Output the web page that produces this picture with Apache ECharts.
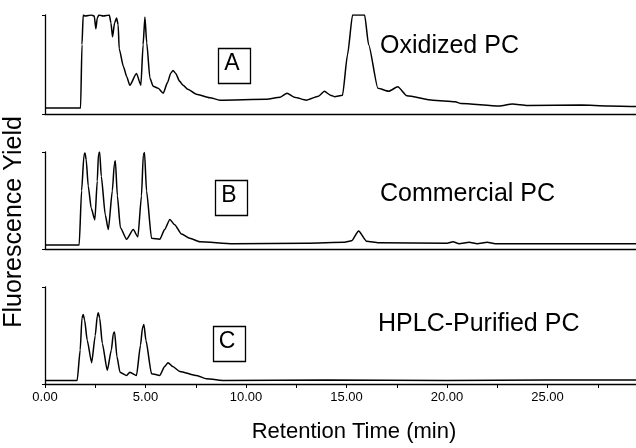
<!DOCTYPE html>
<html>
<head>
<meta charset="utf-8">
<script src="https://cdn.jsdelivr.net/npm/echarts@6/dist/echarts.min.js"></script>
<style>
html,body{margin:0;padding:0;background:#fff;}
#chart{width:636px;height:448px;}
</style>
</head>
<body>
<div id="chart"></div>
<script>
// Retention time (min) and fluorescence yield (relative, 0-100 per panel)
const timesA = [0, 1.77, 1.84, 1.9, 2.0, 2.3, 2.45, 2.53, 2.6, 2.68, 2.9, 3.2, 3.28, 3.36, 3.46, 3.56, 3.64, 3.69, 3.9, 4.06, 4.22, 4.55, 4.77, 4.88, 4.97, 5.06, 5.22, 5.38, 5.63, 5.88, 6.1, 6.25, 6.37, 6.5, 6.7, 6.87, 7.1, 7.53, 8.2, 8.7, 11.0, 11.7, 12.04, 12.4, 13.0, 13.6, 13.9, 14.2, 14.4, 14.8, 15.05, 15.3, 15.9, 16.1, 16.56, 17.1, 17.55, 18.0, 19.3, 20.4, 20.7, 22.6, 23.25, 24.0, 26.7, 28.0, 29.4];
const valuesA = [6, 6, 70, 100, 99, 100, 99, 86, 97, 100, 99, 100, 92, 78, 92, 97, 90, 66, 48, 38, 29, 41, 29, 70, 98, 72, 36, 28, 26, 21, 32, 41, 44, 41, 33, 29, 25, 20, 16.5, 14, 15, 17, 21, 17, 14, 18, 23, 19, 17.5, 19, 60, 100, 100, 70, 26, 23, 27.5, 18.5, 14, 12.5, 10.5, 8, 10, 8.5, 9, 8, 7.5];

const timesB = [0, 1.7, 1.82, 1.94, 1.99, 2.05, 2.15, 2.3, 2.48, 2.6, 2.66, 2.72, 2.8, 3.0, 3.15, 3.35, 3.45, 3.5, 3.6, 3.75, 4.06, 4.39, 4.62, 4.8, 4.89, 4.95, 5.05, 5.3, 5.71, 5.95, 6.21, 6.45, 6.79, 7.2, 7.7, 9.35, 13.0, 14.9, 15.25, 15.6, 16.0, 16.6, 20.0, 20.3, 20.6, 21.1, 21.5, 22.0, 22.4, 29.4];
const valuesB = [4, 4, 60, 97, 99, 92, 65, 42, 30, 70, 98, 100, 75, 35, 20, 60, 88, 91, 55, 22, 10, 20, 12.5, 55, 97, 99.5, 60, 11, 10, 20, 30.5, 25, 15.5, 11, 7.5, 5.5, 6, 7, 8.5, 18.6, 8, 6.5, 6, 7.5, 5.5, 7, 5.5, 7, 5.5, 5.5];

const timesC = [0, 1.6, 1.75, 1.84, 1.9, 1.97, 2.1, 2.32, 2.5, 2.6, 2.65, 2.72, 2.85, 3.1, 3.3, 3.4, 3.46, 3.58, 3.73, 4.06, 4.22, 4.55, 4.75, 4.85, 4.92, 5.02, 5.3, 5.71, 5.95, 6.12, 6.35, 6.71, 7.54, 8.03, 9.0, 14.0, 20.0, 25.0, 29.4];
const valuesC = [3.6, 3.6, 35, 68, 71.7, 66, 45, 22, 50, 70, 73.4, 68, 42, 14, 35, 52, 53.7, 28, 12.2, 8.8, 12.2, 8.8, 40, 58, 61.3, 45, 10.6, 8.8, 18, 22, 18, 13, 8.8, 5.4, 3.6, 4, 3.6, 4.2, 4];

const xTickLabels = ['0.00', '5.00', '10.00', '15.00', '20.00', '25.00'];
const panelLetters = ['A', 'B', 'C'];
const panelNames = ['Oxidized PC', 'Commercial PC', 'HPLC-Purified PC'];

const zip = (t, v) => t.map((x, i) => [x, v[i]]);

const FONT = '"Liberation Sans", Arial, Helvetica, sans-serif';
const grids = [
  {left: 45, right: 0, top: 15, height: 99},
  {left: 45, right: 0, top: 152, height: 97},
  {left: 45, right: 0, top: 287, height: 97}
];

const xAxes = grids.map((g, i) => ({
  type: 'value', gridIndex: i, min: 0, max: 29.4, interval: 2.5,
  axisLine: {show: true, onZero: false, lineStyle: {color: '#000', width: 1.3}},
  axisTick: {show: i === 2, length: 4, lineStyle: {color: '#000', width: 1}},
  axisLabel: {
    show: i === 2, color: '#000', fontFamily: FONT, fontSize: 13, margin: 7,
    showMaxLabel: false,
    formatter: v => {
      const k = Math.round(v / 5);
      return Math.abs(v - k * 5) < 1e-6 && xTickLabels[k] !== undefined ? xTickLabels[k] : '';
    }
  },
  splitLine: {show: false}
}));

const yAxes = grids.map((g, i) => ({
  type: 'value', gridIndex: i, min: 0, max: 100, interval: 100,
  axisLine: {show: true, lineStyle: {color: '#000', width: 1.3}},
  axisTick: {show: true, length: 3, lineStyle: {color: '#000', width: 1}},
  axisLabel: {show: false},
  splitLine: {show: false}
}));

const data = [zip(timesA, valuesA), zip(timesB, valuesB), zip(timesC, valuesC)];
const series = data.map((d, i) => ({
  type: 'line', xAxisIndex: i, yAxisIndex: i, data: d,
  showSymbol: false, animation: false, clip: true,
  smooth: 0.2, smoothMonotone: 'x',
  lineStyle: {color: '#000', width: 1.5}
}));

const boxPos = [[216, 46], [213, 178], [211, 324]];
const namePos = [[380, 46], [380, 194], [378, 324]];
const graphics = [];
panelLetters.forEach((L, i) => {
  graphics.push({type: 'rect', left: boxPos[i][0], top: boxPos[i][1], shape: {width: 32, height: 35},
    style: {fill: 'none', stroke: '#000', lineWidth: 1.3}});
  graphics.push({type: 'text', x: boxPos[i][0] + 16, y: boxPos[i][1] + 18,
    style: {text: L, font: '23px ' + FONT, fill: '#000', textAlign: 'center', textVerticalAlign: 'middle'}});
  graphics.push({type: 'text', x: namePos[i][0], y: namePos[i][1],
    style: {text: panelNames[i], font: '25px ' + FONT, fill: '#000', textAlign: 'left', textVerticalAlign: 'middle'}});
});
graphics.push({type: 'text', x: 14, y: 222, rotation: Math.PI / 2,
  style: {text: 'Fluorescence Yield', font: '25px ' + FONT, fill: '#000', textAlign: 'center', textVerticalAlign: 'middle'}});
graphics.push({type: 'text', x: 354, y: 432,
  style: {text: 'Retention Time (min)', font: '22px ' + FONT, fill: '#000', textAlign: 'center', textVerticalAlign: 'middle'}});

const chart = echarts.init(document.getElementById('chart'), null, {renderer: 'canvas'});
chart.setOption({
  animation: false,
  backgroundColor: '#fff',
  grid: grids,
  xAxis: xAxes,
  yAxis: yAxes,
  series: series,
  graphic: graphics
});
</script>
</body>
</html>
